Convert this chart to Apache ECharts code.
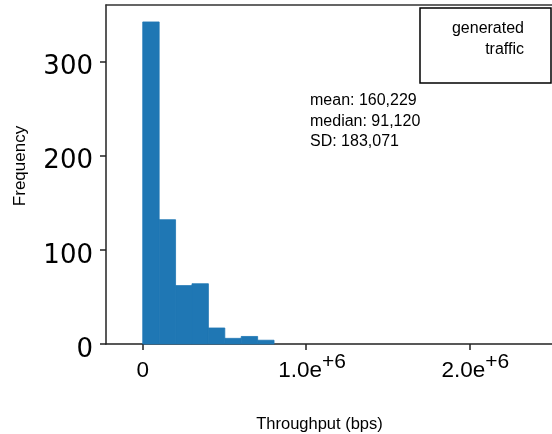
<!DOCTYPE html>
<html>
<head>
<meta charset="utf-8">
<script src="https://cdn.jsdelivr.net/npm/echarts@6/dist/echarts.min.js"></script>
<style>
  html, body { margin: 0; padding: 0; background: #fff; }
  #chart { width: 552px; height: 434px; }
</style>
</head>
<body>
<div id="chart"></div>
<script>
// Histogram bin edges (bps) and counts per bin
const binEdges = [0, 100500, 201000, 301500, 402000, 502500, 603000, 703500, 804000];
const counts = [342, 132, 62, 64, 17, 6, 8, 4];

// Axis ticks
const xTicks = [0, 1000000, 2000000];
const xTickLabels = ['0', '1.0e+6', '2.0e+6'];
const yTicks = [0, 100, 200, 300];

// Summary text
const statLines = ['mean: 160,229', 'median: 91,120', 'SD: 183,071'];
const legendLines = ['generated', 'traffic'];

const bins = counts.map((c, i) => [binEdges[i], binEdges[i + 1], c]);

const axisColor = '#222';
const barColor = '#1f77b4';
const sansFont = '"Liberation Sans", Arial, Helvetica, sans-serif';

const chart = echarts.init(document.getElementById('chart'), null, { renderer: 'canvas' });

// "1.0e+6" -> mantissa with raised exponent
function xLabel(v) {
  const idx = xTicks.indexOf(v);
  const txt = idx >= 0 ? xTickLabels[idx] : '';
  const m = txt.match(/^(.*e)(\+\d+)$/);
  if (m) return '{gap|}{b|' + m[1] + '}{s|' + m[2] + '}';
  return '{b|' + txt + '}';
}

function textEl(x, y, text, align) {
  return {
    type: 'text',
    x: x, y: y,
    z: 11,
    style: { text: text, fontFamily: sansFont, fontSize: 16, fill: '#000', align: align, verticalAlign: 'middle' }
  };
}

chart.setOption({
  animation: false,
  backgroundColor: '#fff',
  grid: { left: 106, top: 5, right: 0, bottom: 90, containLabel: false, outerBoundsMode: 'none' },
  xAxis: [{
    type: 'value',
    position: 'bottom',
    min: -225000,
    max: 2506000,
    splitLine: { show: false },
    axisLine: { show: true, onZero: false, lineStyle: { color: axisColor, width: 1.5 } },
    axisTick: { show: true, length: 6, customValues: xTicks, lineStyle: { color: axisColor, width: 1.5 } },
    axisLabel: {
      show: true,
      customValues: xTicks,
      margin: 7.5,
      formatter: xLabel,
      rich: {
        gap: { width: 12 },
        b: { fontFamily: sansFont, fontSize: 22.5, color: '#000', lineHeight: 31, verticalAlign: 'bottom' },
        s: { fontFamily: sansFont, fontSize: 21, color: '#000', verticalAlign: 'top' }
      }
    },
    name: 'Throughput (bps)',
    nameLocation: 'middle',
    nameGap: 72,
    nameTextStyle: { fontFamily: sansFont, fontSize: 16.5, color: '#000', padding: [0, 19, 0, 0] }
  }, {
    type: 'value',
    position: 'top',
    min: -225000,
    max: 2506000,
    splitLine: { show: false },
    axisLine: { show: true, onZero: false, lineStyle: { color: '#333', width: 1.5 } },
    axisTick: { show: false },
    axisLabel: { show: false }
  }],
  yAxis: {
    type: 'value',
    min: 0,
    max: 360,
    interval: 100,
    splitLine: { show: false },
    axisLine: { show: true, onZero: false, lineStyle: { color: axisColor, width: 1.5 } },
    axisTick: { show: true, length: 6, customValues: yTicks, lineStyle: { color: axisColor, width: 1.5 } },
    axisLabel: {
      customValues: yTicks,
      margin: 13,
      formatter: function (v) { return '{v|' + v + '}'; },
      rich: {
        v: { fontFamily: '"DejaVu Sans", sans-serif', fontSize: 26, color: '#000', lineHeight: 38, verticalAlign: 'bottom' }
      }
    },
    name: 'Frequency',
    nameLocation: 'middle',
    nameGap: 77,
    nameTextStyle: { fontFamily: sansFont, fontSize: 17, color: '#000', padding: [0, 0, 0, 17] }
  },
  series: [{
    type: 'custom',
    name: 'generated traffic',
    xAxisIndex: 0,
    data: bins,
    renderItem: function (params, api) {
      const p0 = api.coord([api.value(0), api.value(2)]);
      const p1 = api.coord([api.value(1), 0]);
      return {
        type: 'rect',
        shape: { x: p0[0], y: p0[1], width: p1[0] - p0[0], height: p1[1] - p0[1] },
        style: { fill: barColor, stroke: barColor, lineWidth: 0.8 }
      };
    }
  }],
  graphic: [
    {
      type: 'rect',
      shape: { x: 420, y: 8, width: 131, height: 75 },
      style: { fill: '#fff', stroke: '#000', lineWidth: 1.5 },
      z: 10
    },
    textEl(524, 29, legendLines[0], 'right'),
    textEl(524, 49.5, legendLines[1], 'right'),
    textEl(310, 101, statLines[0], 'left'),
    textEl(310, 121.5, statLines[1], 'left'),
    textEl(310, 142, statLines[2], 'left')
  ]
});
</script>
</body>
</html>
